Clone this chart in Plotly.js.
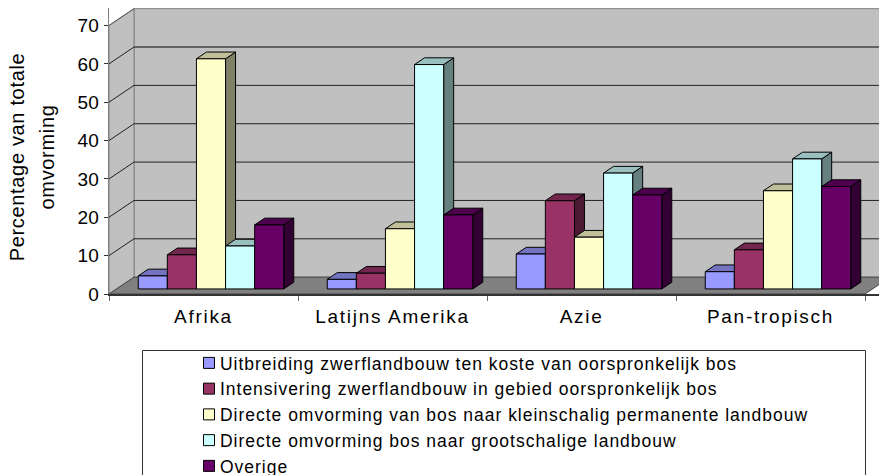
<!DOCTYPE html>
<html><head><meta charset="utf-8">
<script src="https://cdn.plot.ly/plotly-3.0.1.min.js"></script>
<style>
html,body{margin:0;padding:0;background:#fff}
.legendsymbols{transform:translateX(9px)}
.legendtext{letter-spacing:.98px}
.xtick text{letter-spacing:1.7px}
.ytick text{letter-spacing:.3px}
.ytitle{translate:2px 6px}
.ytitle, .ytitle tspan{letter-spacing:.67px}
</style></head><body><div id="chart" style="width:879px;height:475px"></div>
<script>
const categories = ["Afrika","Latijns Amerika","Azie","Pan-tropisch"];
const seriesNames = [
 "Uitbreiding zwerflandbouw ten koste van oorspronkelijk bos",
 "Intensivering zwerflandbouw in gebied oorspronkelijk bos",
 "Directe omvorming van bos naar kleinschalig permanente landbouw",
 "Directe omvorming bos naar grootschalige landbouw",
 "Overige"];
const uitbreiding = [3.4, 2.5, 9.1, 4.5];
const intensivering = [8.9, 4.1, 23, 10.2];
const kleinschalig = [60, 15.7, 13.5, 25.6];
const grootschalig = [11.2, 58.5, 30.2, 33.9];
const overige = [16.7, 19.3, 24.5, 26.7];
const seriesValues = [uitbreiding, intensivering, kleinschalig, grootschalig, overige];
const frontColors = ["#9999FF","#993366","#FFFFCC","#CCFFFF","#660066"];
const topColors = ["#7373BF","#73264D","#BFBF99","#99BFBF","#4D004D"];
const sideColors = ["#4D4D80","#4D1A33","#808066","#668080","#330033"];
const yTicks = [0,10,20,30,40,50,60,70];

// oblique projection, expressed in axis units
const depthX = 0.1323, depthY = 4.39, nCat = categories.length;
const gap = 0.115, barW = 0.154, d1 = 0.3, d2 = 0.7, xMax = 4.074, yMax = 74.56;

const traces = [];
function poly(xs, ys, color, lineColor, w){
  traces.push({type:"scatter",mode:"lines",x:xs.concat(xs[0]),y:ys.concat(ys[0]),fill:"toself",fillcolor:color,
    line:{color:lineColor,width:w},hoverinfo:"skip",showlegend:false});
}
function path(xs, ys, color, w){
  traces.push({type:"scatter",mode:"lines",x:xs,y:ys,line:{color:color,width:w},hoverinfo:"skip",showlegend:false});
}
// walls and floor
poly([depthX,nCat+depthX,nCat+depthX,depthX],[depthY,depthY,70+depthY,70+depthY],"#C0C0C0","#808080",1);
poly([0,depthX,depthX,0],[0,depthY,70+depthY,70],"#C0C0C0","#808080",1);
yTicks.slice(1,-1).forEach(v=>{
  path([0,depthX,nCat+depthX],[v,v+depthY,v+depthY],"#222222",1);
});
path([depthX,nCat+depthX],[60+depthY,60+depthY],"#555555",1);
path([0,depthX],[70,70+depthY],"#555555",1);
poly([0,nCat,nCat+depthX,depthX],[0,0,depthY,depthY],"#808080","#444444",1);
// bars
categories.forEach((c,ci)=>{
  seriesValues.forEach((vals,si)=>{
    const v = vals[ci];
    const x0 = ci+gap+si*barW, x1 = x0+barW;
    const fx0 = x0+d1*depthX, fx1 = x1+d1*depthX, bx0 = x0+d2*depthX, bx1 = x1+d2*depthX;
    const fb = d1*depthY, bb = d2*depthY;
    poly([fx1,bx1,bx1,fx1],[fb,bb,v+bb,v+fb],sideColors[si],"#000",1);
    poly([fx0,fx1,bx1,bx0],[v+fb,v+fb,v+bb,v+bb],topColors[si],"#000",1);
    poly([fx0,fx1,fx1,fx0],[fb,fb,v+fb,v+fb],frontColors[si],"#000",1);
  });
});
// legend entries
seriesNames.forEach((n,si)=>{
  traces.push({type:"scatter",mode:"markers",x:[null],y:[null],name:n,
    marker:{symbol:"square",size:11,color:frontColors[si],line:{color:"#000",width:1}},hoverinfo:"skip"});
});

const H = 286, W = 770, mT = 8, mL = 109;
const px = x => (x-mL)/W, py = y => (mT+H-y)/H;
const font = "Liberation Sans, Arial, sans-serif";
const titleSpan = t => '<span style="font-size:20px">'+t+'</span>';
const layout = {
  width:879,height:475,paper_bgcolor:"#fff",plot_bgcolor:"#fff",
  margin:{l:mL,r:0,t:mT,b:181,autoexpand:false},
  font:{family:font,color:"#000",size:16},
  xaxis:{range:[0,xMax],tickvals:categories.map((c,i)=>i+0.5),ticktext:categories,ticks:"",
    showgrid:false,zeroline:false,showline:true,linecolor:"#333",linewidth:2,
    tickfont:{family:font,size:19,color:"#000"},ticklabelstandoff:4,
    minor:{tickvals:[0,1,2,3,4],ticks:"outside",ticklen:5,tickcolor:"#666",tickwidth:1,showgrid:false}},
  yaxis:{range:[0,yMax],tickvals:yTicks,ticks:"outside",ticklen:4,tickcolor:"#333",
    showgrid:false,zeroline:false,showline:true,linecolor:"#808080",linewidth:1,
    tickfont:{family:font,size:19,color:"#000"},ticklabelstandoff:1,
    title:{text:titleSpan("Percentage van totale")+"<br>"+titleSpan("omvorming"),font:{family:font,size:23,color:"#000"},standoff:18}},
  showlegend:true,
  legend:{x:px(180),y:py(345),xanchor:"left",yanchor:"top",bgcolor:"rgba(0,0,0,0)",borderwidth:0,
    font:{family:font,size:17.5,color:"#000"},itemclick:false,itemdoubleclick:false},
  shapes:[{type:"rect",xref:"paper",yref:"paper",x0:px(142.5),x1:px(865.5),y0:py(350.5),y1:py(480),
    line:{color:"#333",width:1},fillcolor:"rgba(0,0,0,0)"}]
};
Plotly.newPlot("chart",traces,layout,{displayModeBar:false,staticPlot:true});
</script></body></html>
